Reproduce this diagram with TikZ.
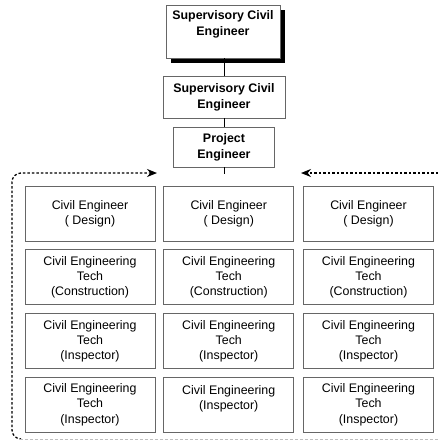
\documentclass[tikz,border=0pt]{standalone}
\usepackage{fontspec}
\setmainfont{Liberation Sans}
\usepackage{tikz}
\usetikzlibrary{positioning, arrows.meta, shadows}
\tikzset{x=1pt, y=-1pt, node distance=8pt, >={Stealth[length=10pt, width=8pt]}}
\tikzstyle{headbox}=[draw=black!60, line width=0.75pt, fill=white, align=center, inner sep=0pt, font=\fontsize{12.4}{16}\selectfont\bfseries]
\tikzstyle{unitbox}=[draw=black!60, line width=0.75pt, align=center, inner sep=0pt, minimum width=130pt, minimum height=55pt, font=\fontsize{12.4}{15.2}\selectfont]
\tikzstyle{flow}=[line width=1.3pt, dash pattern=on 2.5pt off 2pt]

\begin{document}
\begin{tikzpicture}
\useasboundingbox (0, 0) rectangle (438, 445);
\node[headbox, minimum width=114pt, minimum height=53pt, drop shadow={shadow xshift=5pt, shadow yshift=-5pt, opacity=1, fill=black}] (supTop) at (223, 31.5) {Supervisory Civil\\Engineer\\~};
\node[headbox, minimum width=122pt, minimum height=42pt] (supMid) at (224, 97) {Supervisory Civil\\Engineer};
\node[headbox, minimum width=101pt, minimum height=40pt] (projEng) at (224, 147) {Project\\Engineer};
\coordinate (projStub) at (224, 174);
\draw[line width=0.9pt] (supTop.south -| supMid) -- (supMid.north);
\draw[line width=0.9pt] (supMid.south) -- (projEng.north);
\draw[line width=0.9pt] (projEng.south) -- (projStub);
% first column
\node[unitbox] (design1) at (90, 213.5) {Civil Engineer\\( Design)};
\node[unitbox, below=of design1] (construct1) {Civil Engineering\\Tech\\(Construction)};
\node[unitbox, below=of construct1] (inspect1) {Civil Engineering\\Tech\\(Inspector)};
\node[unitbox, below=of inspect1] (inspectLow1) {Civil Engineering\\Tech\\(Inspector)};
% second column
\node[unitbox, right=of design1] (design2) {Civil Engineer\\( Design)};
\node[unitbox, right=of construct1] (construct2) {Civil Engineering\\Tech\\(Construction)};
\node[unitbox, right=of inspect1] (inspect2) {Civil Engineering\\Tech\\(Inspector)};
\node[unitbox, right=of inspectLow1] (inspectLow2) {Civil Engineering\\(Inspector)\\~};
% third column
\node[unitbox, right=9pt of design2] (design3) {Civil Engineer\\( Design)};
\node[unitbox, right=9pt of construct2] (construct3) {Civil Engineering\\Tech\\(Construction)};
\node[unitbox, right=9pt of inspect2] (inspect3) {Civil Engineering\\Tech\\(Inspector)};
\node[unitbox, right=9pt of inspectLow2] (inspectLow3) {Civil Engineering\\Tech\\(Inspector)};
% dashed loop
\coordinate (loopStart) at (20, 439);
\coordinate (loopEnd) at (438, 439);
\coordinate (leftTip) at (157, 173);
\coordinate (rightTip) at (301, 173);
\coordinate (rightStart) at (438, 173);
\draw[flow, ->, rounded corners=9pt] (loopStart) -| (12, 173) -- (leftTip);
\draw[flow, ->] (rightStart) -- (rightTip);
\draw[line width=0.8pt, black!25, dash pattern=on 3pt off 2pt] (loopStart) -- (loopEnd);
\end{tikzpicture}
\end{document}
